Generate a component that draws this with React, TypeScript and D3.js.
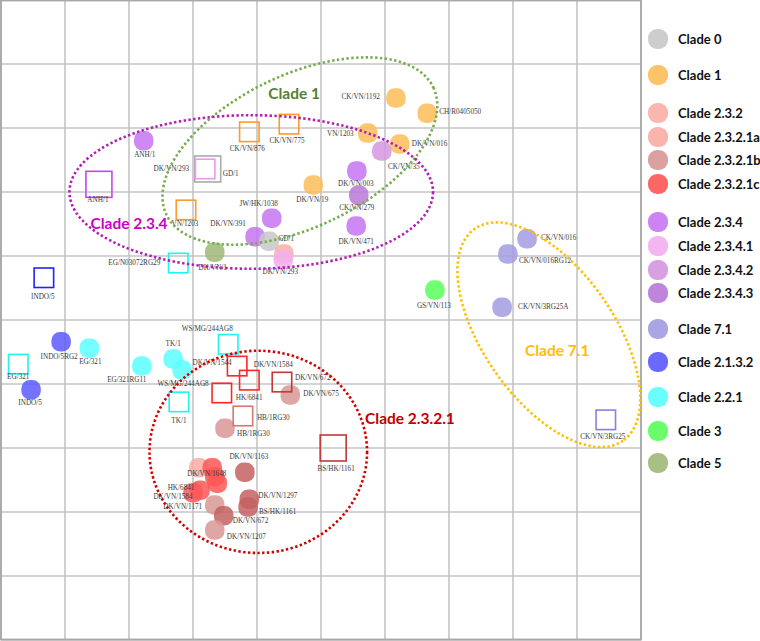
import React from "react";
import * as d3 from "d3";

// ---------- DATA ----------
const cladeNames = ["Clade 0","Clade 1","Clade 2.3.2","Clade 2.3.2.1a","Clade 2.3.2.1b","Clade 2.3.2.1c","Clade 2.3.4","Clade 2.3.4.1","Clade 2.3.4.2","Clade 2.3.4.3","Clade 7.1","Clade 2.1.3.2","Clade 2.2.1","Clade 3","Clade 5"];

// antigens (circles): name, clade, x, y (antigenic units)
const antigenNames = ["ANH/1","DK/VN/19","JW/HK/1038","DK/VN/391","GD/1","","DK/VN/293","DK/VN/1","CK/VN/1192","CH/R0405050","VN/1203","DK/VN/016","CK/VN/35","DK/VN/003","CK/VN/279","DK/VN/471","GS/VN/113","INDO/5RG2","EG/321","INDO/5","EG/321RG11","TK/1","WS/MG/244AG8","DK/VN/675","HB/1RG30","","","DK/VN/1648","","HK/6841","DK/VN/1584","DK/VN/1171","DK/VN/672","DK/VN/1207","DK/VN/1163","DK/VN/1297","BS/HK/1161","CK/VN/016","CK/VN/016RG12","CK/VN/3RG25A"];
const antigenClades = ["2.3.4","1","2.3.4","2.3.4","0","2.3.2","2.3.4.1","5","1","1","1","1","2.3.4.2","2.3.4","2.3.4.3","2.3.4","3","2.1.3.2","2.2.1","2.1.3.2","2.2.1","2.2.1","2.2.1","2.3.2.1b","2.3.2.1b","2.3.2.1a","2.3.2.1c","2.3.2.1c","2.3.2.1c","2.3.2.1c","2.3.2.1c","2.3.2.1b","2.3.2.1b*","2.3.2.1b","2.3.2.1b*","2.3.2.1b*","2.3.2.1b*","7.1","7.1","7.1"];
const antigenX = [2.23,4.88,4.23,3.97,4.19,4.42,4.41,3.34,6.17,6.66,5.73,6.23,5.95,5.56,5.59,5.55,6.78,0.94,1.38,0.47,2.20,2.69,2.83,4.52,3.50,3.09,3.30,3.34,3.38,3.11,3.00,3.34,3.48,3.34,3.81,3.88,3.86,8.22,7.92,7.83];
const antigenY = [2.20,2.89,3.41,3.70,3.77,3.97,4.06,3.94,1.53,1.77,2.08,2.25,2.36,2.67,3.05,3.53,4.53,5.34,5.44,6.09,5.72,5.61,5.78,6.17,6.69,7.31,7.31,7.45,7.55,7.66,7.70,7.89,8.06,8.28,7.38,7.80,7.92,3.73,3.97,4.80];

// sera (squares)
const seraNames = ["ANH/1","CK/VN/876","CK/VN/775","GD/1","DK/VN/293","VN/1203","EG/N03072RG29","INDO/5","EG/321","WS/MG/244AG8","TK/1","DK/VN/1544","DK/VN/1584","DK/VN/672","HK/6841","HB/1RG30","BS/HK/1161","CK/VN/3RG25"];
const seraClades = ["2.3.4","1","1","0","2.3.4.1","1","2.2.1","2.1.3.2","2.2.1","2.2.1","2.2.1","2.3.2.1c","2.3.2.1c","2.3.2.1b*","2.3.2.1c","2.3.2.1b","2.3.2.1b*","7.1"];
const seraX = [1.53,3.88,4.50,3.23,3.19,2.89,2.77,0.67,0.27,3.55,2.78,3.69,3.88,4.39,3.45,3.78,5.19,9.45];
const seraY = [2.88,2.06,1.94,2.64,2.64,3.28,4.11,4.34,5.69,5.38,6.28,5.72,5.94,5.97,6.14,6.50,7.00,6.56];

// clade outlines (centre x, centre y, semi-axes, rotation) and their captions
const groupNames = ["Clade 1","Clade 2.3.4","Clade 2.3.2.1","Clade 7.1"];
const groupCx = [4.67,3.91,4.02,8.56];
const groupCy = [2.36,3.00,7.06,5.23];
const groupRx = [2.31,2.84,1.70,2.02];
const groupRy = [1.19,1.20,1.58,1.02];
const groupAngle = [-25.5,0,0,55];
const groupLabelX = [4.58,2.00,6.39,8.69];
const groupLabelY = [1.45,3.48,6.53,5.47];

// ---------- STYLE / LAYOUT ----------
const fillColor: Record<string,string> = {
  "0":"#c8c8c8","1":"#fdbd58","2.3.2":"#f9aea6","2.3.2.1a":"#f8aca4","2.3.2.1b":"#d99696","2.3.2.1b*":"#c46262","2.3.2.1c":"#ff5656",
  "2.3.4":"#c676f2","2.3.4.1":"#f2aef0","2.3.4.2":"#d496e0","2.3.4.3":"#b878d8","7.1":"#a29ce0","2.1.3.2":"#5a5aff","2.2.1":"#5affff","3":"#5aff5a","5":"#a0b878"
};
const strokeColor: Record<string,string> = {
  "0":"#aaaaaa","1":"#ff9a2a","2.3.4":"#c048f0","2.3.4.1":"#f096f0","2.2.1":"#22f2f2","2.1.3.2":"#2222ff","2.3.2.1c":"#ff2626","2.3.2.1b":"#d87474","2.3.2.1b*":"#c03838","7.1":"#8c7ee0"
};
const groupColor = ["#77ad4d","#b41eb4","#d40000","#ffc000"];
const groupTextColor = ["#548235","#cc00cc","#c00000","#ffc000"];
const legendKeys = ["0","1","2.3.2","2.3.2.1a","2.3.2.1b","2.3.2.1c","2.3.4","2.3.4.1","2.3.4.2","2.3.4.3","7.1","2.1.3.2","2.2.1","3","5"];
const legendY = [39,75,113,137,160,184,222,246,270,293,329,362,397,431,463];

// label offsets [dx, dy, anchor]
const antigenLabel: [number,number,string][] = [
  [1,14,"m"],[-1,15,"m"],[-13,-14,"m"],[-27,-13,"m"],[9,-2,"s"],[0,0,"m"],[-3,12,"m"],[-2,16,"m"],[-16,-1,"e"],[12,-1,"s"],
  [-14,1,"e"],[12,0,"s"],[22,16,"m"],[-1,13,"m"],[-2,13,"m"],[0,16,"m"],[-1,16,"m"],[-2,15,"m"],[1,14,"m"],[-1,13,"m"],
  [-15,14,"m"],[0,-15,"m"],[1,14,"m"],[13,-1,"s"],[12,6,"s"],[0,0,"m"],[0,0,"m"],[-8,-3,"m"],[0,0,"m"],[-19,-2,"m"],
  [-20,4,"m"],[-32,2,"m"],[9,5,"s"],[12,7,"s"],[4,-15,"m"],[9,-3,"s"],[11,5,"s"],[14,-1,"s"],[11,7,"s"],[16,0,"s"]
];
const seraLabel: [number,number,string][] = [
  [-1,16,"m"],[-2,17,"m"],[-2,17,"m"],[15,5,"s"],[-16,0,"e"],[-1,14,"m"],[-18,0,"e"],[-1,19,"m"],[0,13,"m"],[-21,-15,"m"],
  [0,19,"m"],[-25,-3,"m"],[24,-15,"m"],[13,-4,"s"],[14,5,"s"],[14,2,"s"],[3,21,"m"],[-3,17,"m"]
];
const bigSera = ["ANH/1","GD/1","BS/HK/1161"];

const anchorOf = (a: string) => (a === "s" ? "start" : a === "e" ? "end" : "middle");

export default function App() {
  const W = 760, H = 641;
  const x = d3.scaleLinear().domain([0, 10]).range([1, 641]);
  const y = d3.scaleLinear().domain([0, 10]).range([0, 640]);
  const ticks = d3.range(0, 11);
  const circ = 19.5;
  const sq = 19.5, sqBig = 26;

  const antigens = antigenNames.map((n, i) => ({ n, c: antigenClades[i], x: antigenX[i], y: antigenY[i], l: antigenLabel[i] }));
  const sera = seraNames.map((n, i) => ({ n, c: seraClades[i], x: seraX[i], y: seraY[i], l: seraLabel[i] }));
  const labelFont = { fontFamily: "'Liberation Serif', 'DejaVu Serif', serif", fontSize: 7.2, fill: "#3a3a3a" } as const;

  return (
    <svg width={W} height={H} style={{ position: "absolute", left: 0, top: 0, background: "#fff" }}>
      {/* grid */}
      <g>
        {ticks.map((t) => (
          <line key={"v" + t} x1={x(t)} x2={x(t)} y1={y(0)} y2={y(10)} stroke="#c4c4c4" strokeWidth={1.6} />
        ))}
        {ticks.map((t) => (
          <line key={"h" + t} x1={x(0)} x2={x(10)} y1={y(t)} y2={y(t)} stroke="#c4c4c4" strokeWidth={1.6} />
        ))}
        <rect x={x(0)} y={y(0) + 0.5} width={x(10) - x(0)} height={y(10) - y(0) - 1} fill="none" stroke="#a8a8a8" strokeWidth={1.8} />
      </g>

      {/* antigens */}
      <g>
        {antigens.map((d, i) => (
          <rect key={"a" + i} x={x(d.x) - circ / 2} y={y(d.y) - circ / 2} width={circ} height={circ} rx={8.5} ry={8.5}
            fill={fillColor[d.c]} fillOpacity={0.85} />
        ))}
      </g>

      {/* sera */}
      <g>
        {sera.map((d, i) => {
          const s = bigSera.includes(d.n) ? sqBig : sq;
          return (
            <rect key={"s" + i} x={x(d.x) - s / 2} y={y(d.y) - s / 2} width={s} height={s}
              fill="none" stroke={strokeColor[d.c]} strokeWidth={1.6} />
          );
        })}
      </g>

      {/* labels */}
      <g style={labelFont as any}>
        {antigens.filter((d) => d.n).map((d, i) => (
          <text key={"al" + i} x={x(d.x) + d.l[0]} y={y(d.y) + d.l[1]} textAnchor={anchorOf(d.l[2])} dominantBaseline="central">{d.n}</text>
        ))}
        {sera.map((d, i) => (
          <text key={"sl" + i} x={x(d.x) + d.l[0]} y={y(d.y) + d.l[1]} textAnchor={anchorOf(d.l[2])} dominantBaseline="central">{d.n}</text>
        ))}
      </g>

      {/* clade outlines */}
      <g fill="none">
        {groupNames.map((g, i) => {
          const rx = x(groupRx[i]) - x(0);
          const ry = y(groupRy[i]) - y(0);
          return (
            <ellipse key={"e" + i} cx={x(groupCx[i])} cy={y(groupCy[i])} rx={rx} ry={ry}
              transform={`rotate(${groupAngle[i]} ${x(groupCx[i])} ${y(groupCy[i])})`}
              stroke={groupColor[i]} strokeWidth={2.6} strokeDasharray="2.4 2.4" />
          );
        })}
      </g>
      <g style={{ fontFamily: "Lato, 'Open Sans', sans-serif", fontWeight: 700, fontSize: 15.5 }}>
        {groupNames.map((g, i) => (
          <text key={"gl" + i} x={x(groupLabelX[i])} y={y(groupLabelY[i])} textAnchor="middle" dominantBaseline="central" fill={groupTextColor[i]}>{g}</text>
        ))}
      </g>

      {/* legend */}
      <g style={{ fontFamily: "Lato, 'Open Sans', sans-serif", fontWeight: 700, fontSize: 13 }}>
        {legendKeys.map((k, i) => (
          <g key={"lg" + i}>
            <rect x={648} y={legendY[i] - 10} width={20} height={20} rx={9} ry={9} fill={fillColor[k]} fillOpacity={0.9} />
            <text x={678} y={legendY[i]} dominantBaseline="central" fill="#111">{cladeNames[i]}</text>
          </g>
        ))}
      </g>
    </svg>
  );
}
